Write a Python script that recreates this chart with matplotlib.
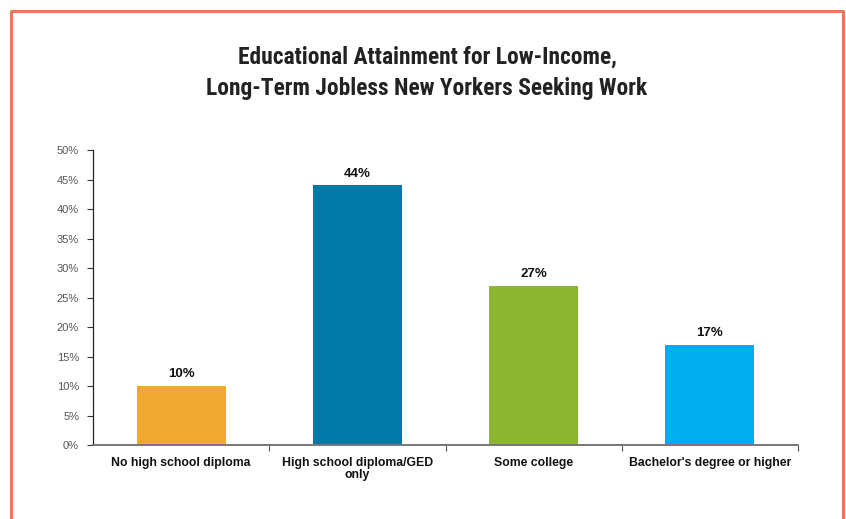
import matplotlib
matplotlib.use("Agg")
import matplotlib.pyplot as plt
from matplotlib.ticker import FixedLocator, FuncFormatter

categories = ["No high school diploma", "High school diploma/GED\nonly",
              "Some college", "Bachelor's degree or higher"]
shares = [10, 44, 27, 17]
colors = ["#F0A830", "#0078A8", "#8DB733", "#00AEEF"]
yticks = list(range(0, 51, 5))

W, H = 846, 519
fig = plt.figure(figsize=(W / 100, H / 100), dpi=100)
fig.patch.set_facecolor("white")

# salmon frame: left, top and right edges, open at the bottom
fx0, fx1, fy = 11 / W, 843 / W, 1 - 11 / H
fig.add_artist(plt.Line2D([fx0, fx0, fx1, fx1], [0, fy, fy, 0],
                          transform=fig.transFigure, color="#E8795A", lw=2.2))

fig.text(427 / W, 1 - 73 / H,
         "Educational Attainment for Low-Income,\nLong-Term Jobless New Yorkers Seeking Work",
         ha="center", va="center", fontsize=16.9, fontweight="bold",
         family=["Roboto Condensed", "Roboto", "DejaVu Sans"], color="#222222",
         linespacing=1.45)

ax = fig.add_axes([93 / W, 1 - 445 / H, (798 - 93) / W, (445 - 150) / H])
x = list(range(len(categories)))
bars = ax.bar(x, shares, width=0.505, color=colors, zorder=2)
for b, v in zip(bars, shares):
    ax.text(b.get_x() + b.get_width() / 2, v + 1.0, f"{v}%", ha="center",
            va="bottom", fontsize=9.5, fontweight="bold",
            family="Liberation Sans", color="#111111")

ax.set_xlim(-0.5, len(categories) - 0.5)
ax.set_ylim(0, 50)
ax.yaxis.set_major_locator(FixedLocator(yticks))
ax.yaxis.set_major_formatter(FuncFormatter(lambda v, p: f"{v:.0f}%"))
ax.tick_params(axis="y", direction="out", length=4, width=0.8,
               colors="#333333", labelsize=8, labelcolor="#555555", pad=6)
for lab in ax.get_yticklabels():
    lab.set_family("Liberation Sans")

# category boundaries as ticks, labels centred on the bars
ax.set_xticks([i + 0.5 for i in x])
ax.set_xticklabels([])
ax.tick_params(axis="x", direction="out", length=4, width=0.8, colors="#555555")
for i, c in enumerate(categories):
    ax.text(i, -2.0, c, ha="center", va="top", fontsize=8.8, fontweight="bold",
            family="Liberation Sans", color="#111111", linespacing=1.0)

for s in ("top", "right"):
    ax.spines[s].set_visible(False)
ax.spines["left"].set_color("#222222")
ax.spines["left"].set_linewidth(0.9)
ax.spines["bottom"].set_color("#777777")
ax.spines["bottom"].set_linewidth(1.4)

fig.savefig("out.png", dpi=100, facecolor="white")
